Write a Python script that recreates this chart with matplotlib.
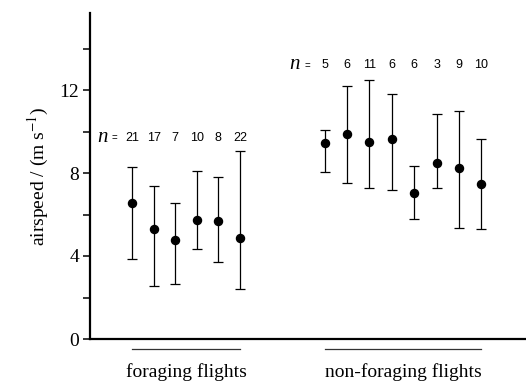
import matplotlib
matplotlib.use("Agg")
import matplotlib.pyplot as plt
import numpy as np

plt.rcParams['mathtext.fontset'] = 'stix'

# ---- data ----
forage_n = ["21", "17", "7", "10", "8", "22"]
forage_mean = [6.55, 5.30, 4.75, 5.75, 5.70, 4.85]
forage_upper = [8.30, 7.35, 6.55, 8.10, 7.80, 9.05]
forage_lower = [3.85, 2.55, 2.65, 4.35, 3.70, 2.40]

nonforage_n = ["5", "6", "11", "6", "6", "3", "9", "10"]
nonforage_mean = [9.45, 9.90, 9.50, 9.65, 7.05, 8.50, 8.25, 7.45]
nonforage_upper = [10.05, 12.20, 12.50, 11.80, 8.35, 10.85, 11.00, 9.65]
nonforage_lower = [8.05, 7.50, 7.30, 7.20, 5.80, 7.30, 5.35, 5.30]

yticks_major = [0, 4, 8, 12]
yticks_minor = [2, 6, 10, 14]
group_labels = ["foraging flights", "non-foraging flights"]
ylabel = "airspeed / (m s$^{-1}$)"

# ---- layout (x in pixel-like units across the axes) ----
W, H, DPI = 526, 385, 100
fig = plt.figure(figsize=(W / DPI, H / DPI), dpi=DPI)
ax = fig.add_axes([90 / W, 1 - 339 / H, (W - 90) / W, (339 - 13) / H])

f_start, f_step = 42.0, 21.6
nf_start, nf_step = 234.7, 22.37
fx = f_start + f_step * np.arange(len(forage_mean))
nfx = nf_start + nf_step * np.arange(len(nonforage_mean))

serif = ["Liberation Serif", "DejaVu Serif"]
sans = ["Liberation Sans", "DejaVu Sans"]


def draw(xs, mean, up, lo):
    mean = np.array(mean)
    err = np.vstack([mean - np.array(lo), np.array(up) - mean])
    ax.errorbar(xs, mean, yerr=err, fmt='o', color='black', ms=5.8,
                ecolor='black', elinewidth=0.9, capsize=3.6, capthick=0.9)


draw(fx, forage_mean, forage_upper, forage_lower)
draw(nfx, nonforage_mean, nonforage_upper, nonforage_lower)

ax.set_xlim(0, W - 90)
ax.set_ylim(0, (339 - 13) / 20.75)

for s in ["top", "right"]:
    ax.spines[s].set_visible(False)
ax.spines["left"].set_linewidth(1.6)
ax.spines["bottom"].set_linewidth(1.6)

ax.set_xticks([])
ax.set_yticks(yticks_major)
ax.set_yticks(yticks_minor, minor=True)
ax.set_yticklabels([str(t) for t in yticks_major], fontfamily=serif, fontsize=14)
ax.tick_params(axis='y', which='both', direction='out', length=5, width=1.1, pad=3)
ax.set_ylabel(ylabel, fontfamily=serif, fontsize=14, labelpad=6)

# n labels
def nlabels(xs, labels, y):
    for x, t in zip(xs, labels):
        ax.text(x, y, t, ha='center', va='center', fontfamily=sans, fontsize=9)
    ax.annotate("n", (xs[0], y), xytext=(-21.5, 0.5), textcoords='offset points',
                ha='center', va='center', fontfamily=serif, style='italic', fontsize=15)
    ax.annotate("=", (xs[0], y), xytext=(-12.5, -0.5), textcoords='offset points',
                ha='center', va='center', fontfamily=sans, fontsize=7)

nlabels(fx, forage_n, 9.7)
nlabels(nfx, nonforage_n, 13.2)

# group underlines and labels
for xs, lab in zip([fx, nfx], group_labels):
    ax.plot([xs[0], xs[-1]], [-0.48, -0.48], color='#333333', lw=0.9, clip_on=False)
    ax.text((xs[0] + xs[-1]) / 2, -1.6, lab, ha='center', va='center',
            fontfamily=serif, fontsize=14, clip_on=False)

fig.savefig("out.png", dpi=DPI)
